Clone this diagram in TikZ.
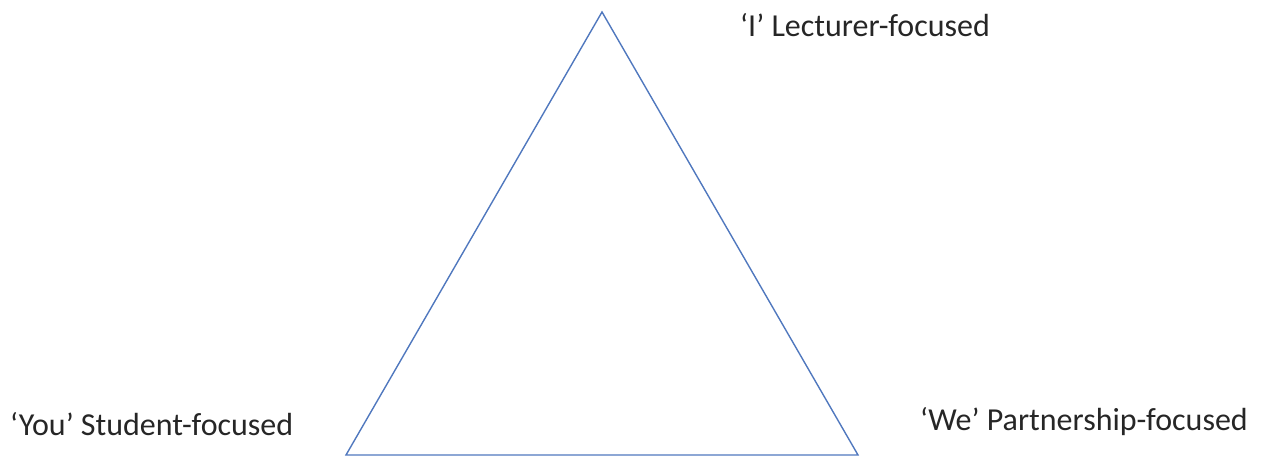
\documentclass[tikz,border=0pt]{standalone}
\usepackage{fontspec}
\setmainfont{Carlito}
\definecolor{triblue}{RGB}{80,120,190}
\definecolor{txt}{RGB}{38,38,38}
\begin{document}
\begin{tikzpicture}[x=1pt,y=-1pt,
  lbl/.style={anchor=west,inner sep=0pt,text=txt,font=\fontsize{32}{36}\selectfont},
  tri/.style={draw=triblue,line width=1.4pt,line join=miter}]
\useasboundingbox (0,0) rectangle (1264,457);
\coordinate (top) at (602,12);
\coordinate (bl) at (346,455);
\coordinate (br) at (858,455);
\draw[tri] (top) -- (br) -- (bl) -- cycle;
\node[lbl] (i) at (740,25) {‘I’ Lecturer-focused};
\node[lbl] (you) at (10,424) {‘You’ Student-focused};
\node[lbl] (we) at (920,422) {‘We’ Partnership-focused};
\end{tikzpicture}
\end{document}
